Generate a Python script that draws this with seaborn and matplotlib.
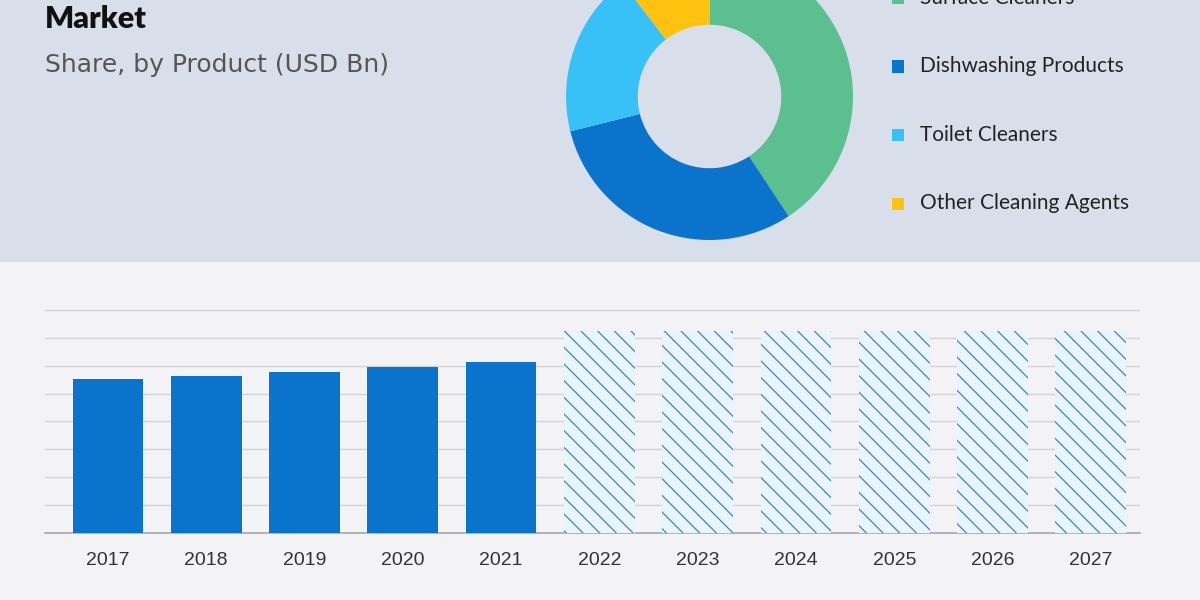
import matplotlib
matplotlib.use("Agg")
import matplotlib.pyplot as plt
from matplotlib.patches import Rectangle
import seaborn as sns

# data
years = ['2017', '2018', '2019', '2020', '2021', '2022', '2023', '2024', '2025', '2026', '2027']
market_size = [5.52, 5.63, 5.78, 5.96, 6.13, 7.25, 7.25, 7.25, 7.25, 7.25, 7.25]
n_actual = 5  # 2017-2021 solid, rest forecast (hatched)

products = ['Surface Cleaners', 'Dishwashing Products', 'Toilet Cleaners', 'Other Cleaning Agents']
shares = [40.7, 30.4, 18.5, 10.4]
product_colors = ['#5cbf90', '#0a74cc', '#38c1f6', '#ffc20e']

TOP_BG = '#d9dfea'
BOTTOM_BG = '#f3f3f6'
BAR_BLUE = '#0a74cc'

sns.set_theme(style='white')
plt.rcParams['hatch.linewidth'] = 0.9

W, H = 1200, 600
fig = plt.figure(figsize=(12, 6), dpi=100)
fig.patch.set_facecolor(BOTTOM_BG)

# top band (behind everything)
fig.patches.append(Rectangle((0, 1 - 262 / H), 1, 262 / H, transform=fig.transFigure,
                             facecolor=TOP_BG, edgecolor='none', zorder=-5))

# title / subtitle
fig.text(45 / W, 1 - 19 / H, 'Market', fontsize=22, fontweight='heavy', color='#111111',
         family='Lato', va='center', ha='left')
fig.text(45 / W, 1 - 65 / H, 'Share, by Product (USD Bn)', fontsize=18, color='#555555',
         family='DejaVu Sans', va='center', ha='left')

# donut
cx, cy, r = 709.5, 96.5, 143.5
ax_pie = fig.add_axes([(cx - r) / W, 1 - (cy + r) / H, 2 * r / W, 2 * r / H])
ax_pie.pie(shares, colors=product_colors, startangle=90, counterclock=False,
           radius=1.0, wedgeprops=dict(width=0.5, edgecolor='none'))
ax_pie.set_xlim(-1, 1)
ax_pie.set_ylim(-1, 1)
ax_pie.set_aspect('auto')
ax_pie.axis('off')

# legend, drawn by hand to match row spacing
for i, (label, col) in enumerate(zip(products, product_colors)):
    yc = -2 + i * 68.5
    fig.patches.append(Rectangle((892 / W, 1 - (yc + 6) / H), 12 / W, 12 / H,
                                 transform=fig.transFigure, facecolor=col, edgecolor='none'))
    fig.text(920 / W, 1 - yc / H, label, fontsize=15, color='#222222', family='Lato',
             va='center', ha='left')

# bar chart
y_bottom, y_top = 533, 304.4
ax = fig.add_axes([45 / W, 1 - y_bottom / H, (1140 - 45) / W, (y_bottom - y_top) / H])
ax.set_facecolor('none')
sns.barplot(x=years, y=market_size, color=BAR_BLUE, saturation=1, width=0.72, ax=ax, zorder=3)
for i, p in enumerate(ax.patches):
    p.set_linewidth(0)
    if i >= n_actual:
        p.set_facecolor('#e8f5fc')
        p.set_edgecolor('#3f87b3')
        p.set_hatch('\\\\')

ax.set_xlim(-0.64, 10.5)
ax.set_ylim(0, 8.2)
ax.set_yticks(range(1, 9))
ax.yaxis.grid(True, color='#d3d3d6', linewidth=1)
ax.set_axisbelow(True)
ax.tick_params(axis='y', left=False, labelleft=False)
ax.tick_params(axis='x', bottom=False, labelsize=14, colors='#333333', pad=8)
for lbl in ax.get_xticklabels():
    lbl.set_family('Liberation Sans')
for s in ['top', 'right', 'left']:
    ax.spines[s].set_visible(False)
ax.spines['bottom'].set_color('#a8a8ac')
ax.spines['bottom'].set_linewidth(1.2)
ax.set_xlabel('')
ax.set_ylabel('')

fig.savefig('out.png', dpi=100, facecolor=fig.get_facecolor())
